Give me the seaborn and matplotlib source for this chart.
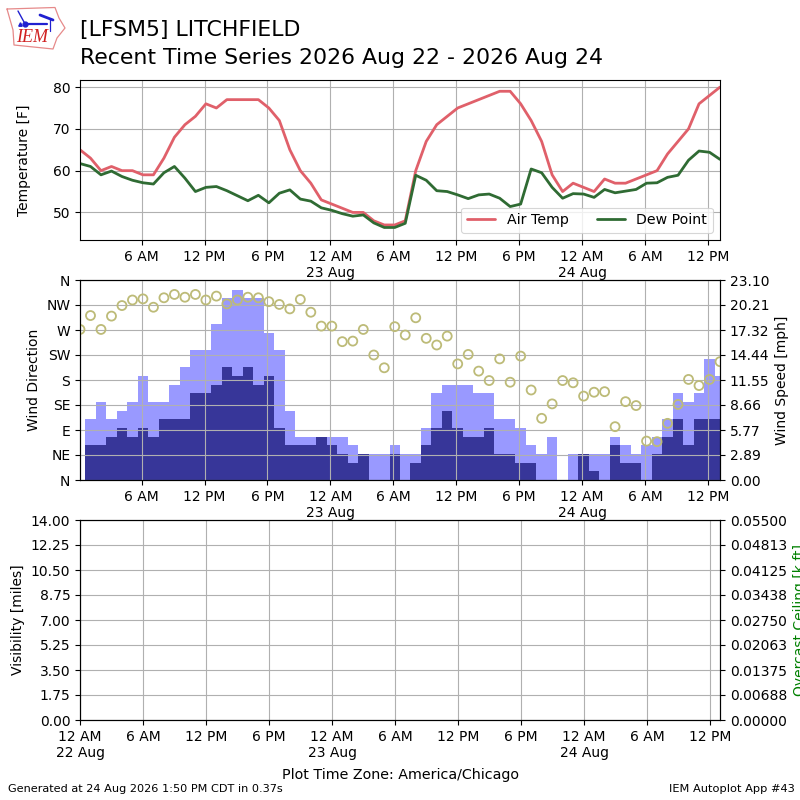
import matplotlib
matplotlib.use('Agg')
import numpy as np
import pandas as pd
import matplotlib.pyplot as plt
import matplotlib.dates as mdates
import seaborn as sns
from matplotlib.ticker import FuncFormatter

# hourly obs, first one at 00:08 on 22 Aug
air_temp = [65, 63, 60, 61, 60, 60, 59, 59, 63, 68, 71, 73, 76, 75, 77, 77, 77, 77, 75, 72, 65,
            60, 57, 53, 52, 51, 50, 50, 48, 47, 47, 48, 60, 67, 71, 73, 75, 76, 77, 78, 79, 79,
            76, 72, 67, 59, 55, 57, 56, 55, 58, 57, 57, 58, 59, 60, 64, 67, 70, 76, 78, 80]
dew_point = [61.7, 61, 59, 59.9, 58.6, 57.7, 57.1, 56.8, 59.5, 61, 58.2, 55, 56, 56.2, 55.2, 54,
             52.8, 54.1, 52.3, 54.6, 55.4, 53.2, 52.7, 51.1, 50.5, 49.7, 49.1, 49.4, 47.5, 46.4,
             46.4, 47.4, 58.9, 57.7, 55.2, 55, 54.2, 53.3, 54.2, 54.4, 53.4, 51.4, 52, 60.4, 59.5,
             56, 53.4, 54.5, 54.4, 53.6, 55.5, 54.7, 55.1, 55.5, 57, 57.1, 58.4, 58.9, 62.5, 64.7,
             64.4, 62.7]
wind_dir = [271, 296, 271, 295, 314, 324, 326, 311, 328, 334, 329, 334, 324, 331, 317, 324, 329,
            328, 321, 316, 308, 325, 302, 277, 277, 249, 250, 271, 225, 202, 276, 261, 292, 255,
            243, 259, 209, 226, 196, 179, 218, 176, 223, 162, 111, 137, 179, 175, 151, 158, 159,
            96, 141, 134, 70, 69, 102, 136, 181, 170, 181, 213]
wind_gust = [0, 7, 9, 7, 8, 9, 12, 9, 9, 11, 13, 15, 15, 18, 21, 22, 21, 21, 17, 15, 8, 5, 5, 5, 5,
             5, 4, 0, 3, 3, 4, 3, 3, 6, 10, 11, 11, 11, 10, 10, 7, 7, 6, 4, 3, 5, 0, 3, 3, 3, 3, 5,
             4, 3, 4, 5, 7, 10, 9, 10, 14, 12]
wind_speed = [0, 4, 4, 5, 6, 5, 6, 5, 7, 7, 7, 10, 10, 11, 13, 12, 13, 11, 12, 6, 4, 4, 4, 5, 4, 3,
              2, 3, 0, 0, 3, 0, 2, 4, 6, 8, 6, 5, 5, 6, 3, 3, 2, 2, 0, 0, 0, 0, 3, 1, 0, 4, 2, 2, 0,
              3, 5, 7, 4, 7, 7, 7]
dir_labels = ['N', 'NE', 'E', 'SE', 'S', 'SW', 'W', 'NW', 'N']
speed_labels = ['0.00', '2.89', '5.77', '8.66', '11.55', '14.44', '17.32', '20.21', '23.10']
vis_labels = ['0.00', '1.75', '3.50', '5.25', '7.00', '8.75', '10.50', '12.25', '14.00']
ceil_labels = ['0.00000', '0.00688', '0.01375', '0.02063', '0.02750', '0.03438', '0.04125',
               '0.04813', '0.05500']

times = pd.date_range('2026-08-22 00:08', periods=len(air_temp), freq='h')
xlim_start = times[0]
xlim_end = times[-1]


def fmt_time(x, pos=None):
    d = mdates.num2date(x)
    label = d.strftime('%-I %p')
    if d.hour == 0:
        label += '\n' + d.strftime('%d %b')
    return label


def setup_time_axis(ax):
    ax.xaxis.set_major_locator(mdates.HourLocator(byhour=[0, 6, 12, 18]))
    ax.xaxis.set_major_formatter(FuncFormatter(fmt_time))
    ax.tick_params(axis='x', labelbottom=True)
    ax.grid(True)
    ax.set_xlabel('')


sns.set_theme(style='ticks', font='DejaVu Sans', rc={
    'font.size': 10, 'axes.labelsize': 10, 'xtick.labelsize': 10, 'ytick.labelsize': 10,
    'xtick.major.size': 3.5, 'ytick.major.size': 3.5, 'xtick.major.width': 0.8, 'ytick.major.width': 0.8,
    'axes.linewidth': 0.8, 'grid.color': '#b0b0b0', 'grid.linewidth': 0.8, 'patch.linewidth': 0,
    'axes.edgecolor': 'black', 'xtick.color': 'black', 'ytick.color': 'black',
    'text.color': 'black', 'axes.labelcolor': 'black',
})

fig = plt.figure(figsize=(8, 8), dpi=100)

# temperature panel
ax1 = fig.add_axes([0.1, 0.7, 0.8, 0.2])
sns.lineplot(x=times, y=air_temp, ax=ax1, color='#e0606a', lw=2, label='Air Temp')
sns.lineplot(x=times, y=dew_point, ax=ax1, color='#2f6b33', lw=2, label='Dew Point')
ax1.set_xlim(xlim_start, xlim_end)
ax1.set_ylim(43.4, 81.7)
ax1.set_yticks([50, 60, 70, 80])
ax1.set_ylabel('Temperature [F]')
ax1.yaxis.set_label_coords(-0.0765, 0.5)
setup_time_axis(ax1)
leg = ax1.legend(loc='lower right', ncol=2, fontsize=10.2, borderaxespad=0, bbox_to_anchor=(0.989, 0.044))
leg.get_frame().set_linewidth(0.8)

# wind panel, bars sit on the twin underneath the direction axes
ax2 = fig.add_axes([0.1, 0.4, 0.8, 0.25])
ax2b = ax2.twinx()
ax2b.bar(times, wind_gust, width=1 / 24, color='#9999ff', linewidth=0)
ax2b.bar(times, wind_speed, width=1 / 24, color='#373699', linewidth=0)
ax2b.set_ylim(0, 23.1)
ax2b.set_yticks(np.arange(9) * 23.1 / 8)
ax2b.set_yticklabels(speed_labels)
ax2b.set_ylabel('Wind Speed [mph]')
sns.scatterplot(x=times, y=wind_dir, ax=ax2, s=42, facecolor='none', edgecolor='#bdbb78', linewidth=1.3)
ax2.set_zorder(ax2b.get_zorder() + 1)
ax2.patch.set_visible(False)
ax2.set_xlim(xlim_start, xlim_end)
ax2.set_ylim(0, 360)
ax2.set_yticks(np.arange(0, 361, 45))
ax2.set_yticklabels(dir_labels)
ax2.set_ylabel('Wind Direction')
setup_time_axis(ax2)

# visibility / ceiling panel, no obs in this window
ax3 = fig.add_axes([0.1, 0.1, 0.8, 0.25])
ax3.set_xlim(pd.Timestamp('2026-08-22 00:00'), pd.Timestamp('2026-08-22 00:00') + pd.Timedelta(hours=60.95))
ax3.set_ylim(0, 14)
ax3.set_yticks(np.arange(9) * 1.75)
ax3.set_yticklabels(vis_labels)
ax3.set_ylabel('Visibility [miles]')
setup_time_axis(ax3)
ax3b = ax3.twinx()
ax3b.set_ylim(0, 0.055)
ax3b.set_yticks(np.arange(9) * 0.055 / 8)
ax3b.set_yticklabels(ceil_labels)
ax3b.set_ylabel('Overcast Ceiling [k ft]', color='green')

fig.text(0.1, 0.962, '[LFSM5] LITCHFIELD', fontsize=15.85, va='center')
fig.text(0.1, 0.928, 'Recent Time Series 2026 Aug 22 - 2026 Aug 24', fontsize=15.85, va='center')
fig.text(0.5, 0.031, 'Plot Time Zone: America/Chicago', ha='center', va='center', fontsize=10.3)
fig.text(0.01, 0.0135, 'Generated at 24 Aug 2026 1:50 PM CDT in 0.37s', va='center', fontsize=8.15)
fig.text(0.9935, 0.0135, 'IEM Autoplot App #43', ha='right', va='center', fontsize=8.2)

# logo, in pixels
logo = fig.add_axes([0, 0, 1, 1], zorder=5)
logo.set_xlim(0, 800)
logo.set_ylim(800, 0)
logo.axis('off')
logo.plot([7, 55, 59, 65, 57, 53, 14, 13, 7], [9, 7.5, 18, 28, 38, 49, 45, 30, 9], color='#e68a8a', lw=0.9)
logo.plot([25, 47], [23.5, 23.5], color='#2020d0', lw=1.6)
logo.plot([18, 24], [11, 22], color='#2020d0', lw=1)
logo.plot([40, 53], [15, 20], color='#2020d0', lw=2)
logo.plot([50, 50], [19, 31], color='#2020d0', lw=0.9)
logo.plot([25], [23.5], 'o', color='#2020d0', ms=3.5)
logo.plot([20], [24], '^', color='#2020d0', ms=2.5)
logo.text(16, 38, 'IEM', color='#d02020', fontsize=13, style='italic', family='Liberation Serif', va='center')

fig.savefig('out.png', dpi=100)
